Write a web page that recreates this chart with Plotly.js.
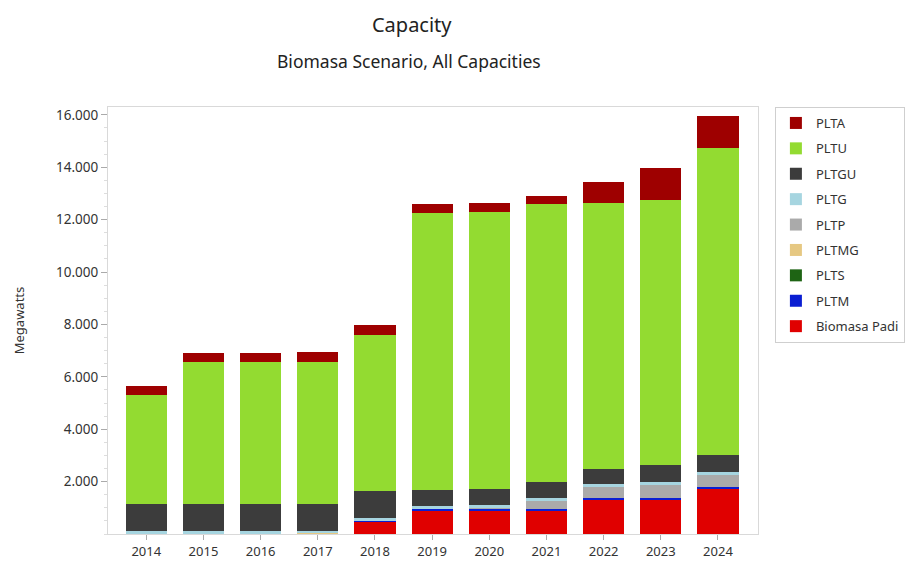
<!DOCTYPE html>
<html>
<head>
<meta charset="utf-8">
<script src="https://cdn.plot.ly/plotly-3.0.1.min.js"></script>
<style>html,body{margin:0;padding:0;background:#fff;}#chart{width:905px;height:561px;}</style>
</head>
<body>
<div id="chart"></div>
<script>
var years = ['2014','2015','2016','2017','2018','2019','2020','2021','2022','2023','2024'];

var biomasaPadi = [0, 0, 0, 0, 477, 870, 870, 870, 1290, 1290, 1710];
var pltm        = [0, 0, 0, 0, 30, 80, 70, 70, 100, 100, 80];
var plts        = [0, 0, 0, 0, 0, 0, 0, 0, 0, 0, 0];
var pltmg       = [0, 0, 0, 30, 0, 0, 0, 0, 0, 0, 0];
var pltp        = [0, 0, 0, 0, 0, 0, 70, 330, 410, 490, 480];
var pltg        = [107, 107, 107, 80, 110, 100, 100, 100, 100, 100, 100];
var pltgu       = [1045, 1050, 1050, 1050, 1010, 640, 610, 630, 600, 650, 650];
var pltu        = [4160, 5420, 5420, 5420, 5970, 10550, 10580, 10580, 10140, 10110, 11720];
var plta        = [330, 350, 350, 350, 390, 340, 340, 320, 780, 1220, 1230];

var seriesNames = ['Biomasa Padi','PLTM','PLTS','PLTMG','PLTP','PLTG','PLTGU','PLTU','PLTA'];
var seriesData  = [biomasaPadi, pltm, plts, pltmg, pltp, pltg, pltgu, pltu, plta];
var seriesColors = ['#E00000','#0A1ED2','#1E6414','#E6C882','#AAAAAA','#A6D5E0','#3C3C3C','#93DB31','#9E0000'];

var traces = seriesNames.map(function(n, i){
  return {
    type: 'bar',
    name: n,
    x: years,
    y: seriesData[i],
    marker: {color: seriesColors[i], line: {width: 0}},
    legendgroup: n,
    legendrank: seriesNames.length - i,
    hoverinfo: 'x+y+name'
  };
});

var layout = {
  width: 905, height: 561,
  paper_bgcolor: '#fff', plot_bgcolor: '#fff',
  font: {family: 'Noto Sans, Open Sans, sans-serif', color: '#333', size: 13},
  separators: ',.',
  barmode: 'stack',
  bargap: 0.28,
  margin: {l: 108, r: 147, t: 107, b: 27, autoexpand: false},
  title: {
    text: 'Capacity',
    font: {size: 20, color: '#222'},
    xref: 'container', x: 0.455, xanchor: 'center',
    yref: 'container', y: 0.955, yanchor: 'middle'
  },
  annotations: [{
    text: 'Biomasa Scenario, All Capacities',
    xref: 'paper', yref: 'paper', x: 0.463, y: 1.108,
    xanchor: 'center', yanchor: 'middle', showarrow: false,
    font: {size: 17.5, color: '#222'}
  }],
  xaxis: {
    type: 'category',
    range: [-0.67, 10.7],
    showline: true, linecolor: '#d9d9d9', linewidth: 1, mirror: true,
    ticks: 'outside', ticklen: 5, tickcolor: '#aaa',
    showgrid: false, zeroline: false,
    tickfont: {size: 13, color: '#333'}
  },
  yaxis: {
    range: [0, 16300],
    tickvals: [2000,4000,6000,8000,10000,12000,14000,16000],
    tickformat: ',.0f',
    showline: true, linecolor: '#d9d9d9', linewidth: 1, mirror: true,
    ticks: 'outside', ticklen: 6, tickcolor: '#aaa',
    minor: {dtick: 500, ticks: 'outside', ticklen: 3, tickcolor: '#ddd', showgrid: false},
    showgrid: false, zeroline: false,
    tickfont: {size: 13.5, color: '#333'},
    title: {text: 'Megawatts', font: {size: 13, color: '#333'}, standoff: 28}
  },
  legend: {
    x: 1.026, xanchor: 'left', y: 1, yanchor: 'top',
    traceorder: 'grouped',
    tracegroupgap: 5.5,
    bordercolor: '#cfcfcf', borderwidth: 1,
    bgcolor: '#fff',
    font: {size: 13, color: '#333'}
  },
  showlegend: true
};

Plotly.newPlot('chart', traces, layout, {displayModeBar: false, staticPlot: true});
</script>
</body>
</html>
